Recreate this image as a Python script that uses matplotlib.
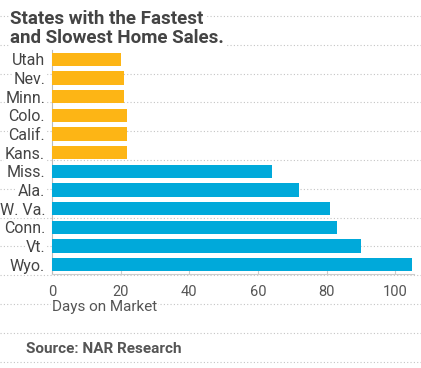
import numpy as np
import matplotlib.pyplot as plt
from matplotlib.lines import Line2D

states = ['Utah', 'Nev.', 'Minn.', 'Colo.', 'Calif.', 'Kans.',
          'Miss.', 'Ala.', 'W. Va.', 'Conn.', 'Vt.', 'Wyo.']
days = [20, 21, 21, 22, 22, 22, 64, 72, 81, 83, 90, 105]
group = ['fast'] * 6 + ['slow'] * 6
x_ticks = [0, 20, 40, 60, 80, 100]

colors = {'fast': '#FDB515', 'slow': '#00A9DA'}

W, H = 421, 368
fig = plt.figure(figsize=(W / 100, H / 100), dpi=100)
fig.patch.set_facecolor('white')

# ruled dotted lines behind everything
for ypx in 16 + 28.8 * np.arange(13):
    fig.add_artist(Line2D([0, 1], [1 - ypx / H] * 2, transform=fig.transFigure,
                          color='#c4c4c4', lw=0.8, ls=(0, (1, 2)), zorder=-1))

ax = fig.add_axes([52 / W, 1 - 274 / H, 362 / W, 224 / H])
ax.set_facecolor('none')

ypos = np.arange(len(states))
ax.barh(ypos, days, height=0.72, color=[colors[g] for g in group], zorder=3)

ax.set_xlim(0, 105.5)
ax.set_ylim(11.5, -0.5)
ax.set_yticks(ypos)
ax.set_yticklabels(states, fontsize=11.5, color='#444444', family='Roboto')
ax.set_xticks(x_ticks)
ax.set_xticklabels([str(t) for t in x_ticks], fontsize=10.5, color='#555555', family='Roboto')
ax.tick_params(axis='y', length=0, pad=5)
ax.tick_params(axis='x', length=3, direction='in', color='#cccccc', pad=8)
for lab in ax.get_yticklabels() + ax.get_xticklabels():
    lab.set_bbox(dict(facecolor='white', edgecolor='none', pad=0.5))

for s in ['top', 'right']:
    ax.spines[s].set_visible(False)
ax.spines['left'].set_color('#bbbbbb')
ax.spines['bottom'].set_color('#cccccc')
ax.spines['left'].set_linewidth(0.8)
ax.spines['bottom'].set_linewidth(0.8)

title_kw = dict(fontsize=13.5, fontweight='bold', color='#444444', family='Roboto',
                va='baseline', bbox=dict(facecolor='white', edgecolor='none', pad=1))
fig.text(10 / W, 1 - 24 / H, 'States with the Fastest', **title_kw)
fig.text(10 / W, 1 - 43 / H, 'and Slowest Home Sales.', **title_kw)
fig.text(52 / W, 1 - 311 / H, 'Days on Market', fontsize=11, color='#555555',
         family='Roboto', va='baseline',
         bbox=dict(facecolor='white', edgecolor='none', pad=0.5))
fig.text(26 / W, 1 - 353 / H, 'Source: NAR Research', fontsize=11, fontweight='bold',
         color='#555555', family='Roboto', va='baseline')

fig.savefig('out.png', dpi=100)
